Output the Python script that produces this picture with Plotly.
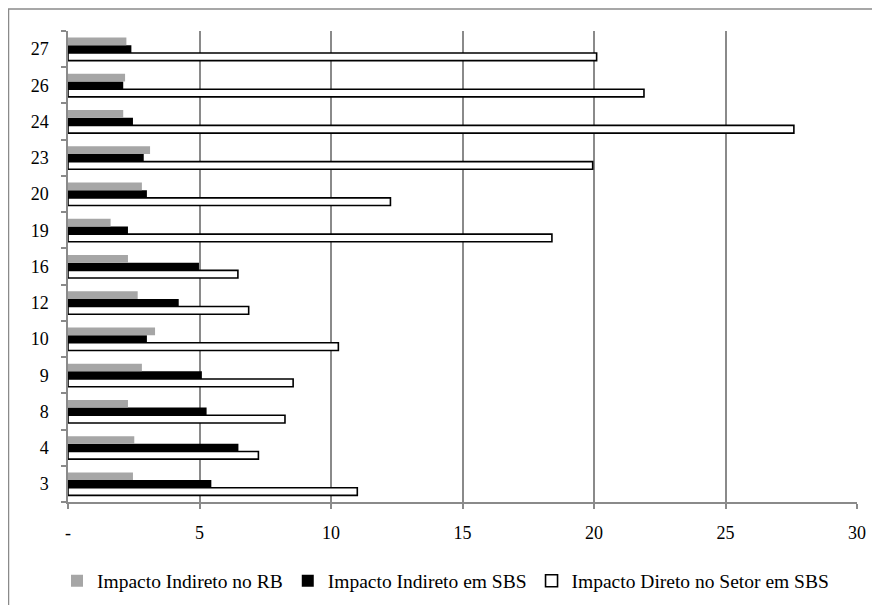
import plotly.graph_objects as go

categories = ["3", "4", "8", "9", "10", "12", "16", "19", "20", "23", "24", "26", "27"]
impacto_indireto_rb = [2.47, 2.52, 2.28, 2.81, 3.31, 2.65, 2.28, 1.62, 2.81, 3.12, 2.10, 2.17, 2.22]
impacto_indireto_sbs = [5.45, 6.48, 5.27, 5.09, 3.00, 4.21, 4.98, 2.28, 3.00, 2.88, 2.47, 2.10, 2.41]
impacto_direto_setor_sbs = [11.0, 7.24, 8.25, 8.56, 10.28, 6.87, 6.46, 18.4, 12.26, 19.95, 27.6, 21.9, 20.1]

x_tick_vals = [0, 5, 10, 15, 20, 25, 30]
x_tick_text = ["-", "5", "10", "15", "20", "25", "30"]

FONT = "Liberation Serif"
GRAY_LINE = "#8a8a8a"

fig = go.Figure()
fig.add_trace(go.Bar(
    y=categories, x=impacto_direto_setor_sbs, orientation="h",
    name="Impacto Direto no Setor em SBS",
    marker=dict(color="#ffffff", line=dict(color="#000000", width=1.6)),
))
fig.add_trace(go.Bar(
    y=categories, x=impacto_indireto_sbs, orientation="h",
    name="Impacto Indireto em SBS",
    marker=dict(color="#000000", line=dict(width=0)),
))
fig.add_trace(go.Bar(
    y=categories, x=impacto_indireto_rb, orientation="h",
    name="Impacto Indireto no RB",
    marker=dict(color="#a6a6a6", line=dict(width=0)),
))

fig.update_layout(
    width=872, height=597,
    margin=dict(l=60, r=23, t=23, b=103, autoexpand=False),
    paper_bgcolor="white", plot_bgcolor="white",
    barmode="group", bargap=0.365, bargroupgap=0,
    font=dict(family=FONT, size=18, color="#000000"),
    showlegend=True,
    legend=dict(
        orientation="h", traceorder="reversed",
        xref="container", yref="container",
        x=0.0562, xanchor="left", y=0.040, yanchor="middle",
        font=dict(family=FONT, size=19.5, color="#000000"),
        bgcolor="rgba(0,0,0,0)", itemwidth=30,
    ),
    shapes=[dict(
        type="rect", xref="paper", yref="paper",
        x0=-0.0754, x1=1.2, y0=-0.4, y1=1.0467,
        line=dict(color=GRAY_LINE, width=1.5), fillcolor="rgba(0,0,0,0)",
        layer="below",
    )],
)

fig.update_xaxes(
    range=[0, 30], tickvals=x_tick_vals, ticktext=x_tick_text,
    showgrid=True, gridcolor=GRAY_LINE, gridwidth=1.5,
    zeroline=False, showline=True, linecolor=GRAY_LINE, linewidth=1.5,
    ticks="outside", ticklen=5, tickcolor=GRAY_LINE, tickwidth=1.5,
    ticklabelstandoff=9,
    tickfont=dict(family=FONT, size=18, color="#000000"),
)
fig.update_yaxes(
    type="category", categoryorder="array", categoryarray=categories,
    range=[-0.5, len(categories) - 0.5],
    showgrid=False, zeroline=False,
    showline=True, linecolor=GRAY_LINE, linewidth=1.5,
    ticks="outside", ticklen=5, tickcolor=GRAY_LINE, tickwidth=1.5,
    tickson="boundaries", ticklabelstandoff=14,
    tickfont=dict(family=FONT, size=18, color="#000000"),
)

fig.write_html("out.html")
